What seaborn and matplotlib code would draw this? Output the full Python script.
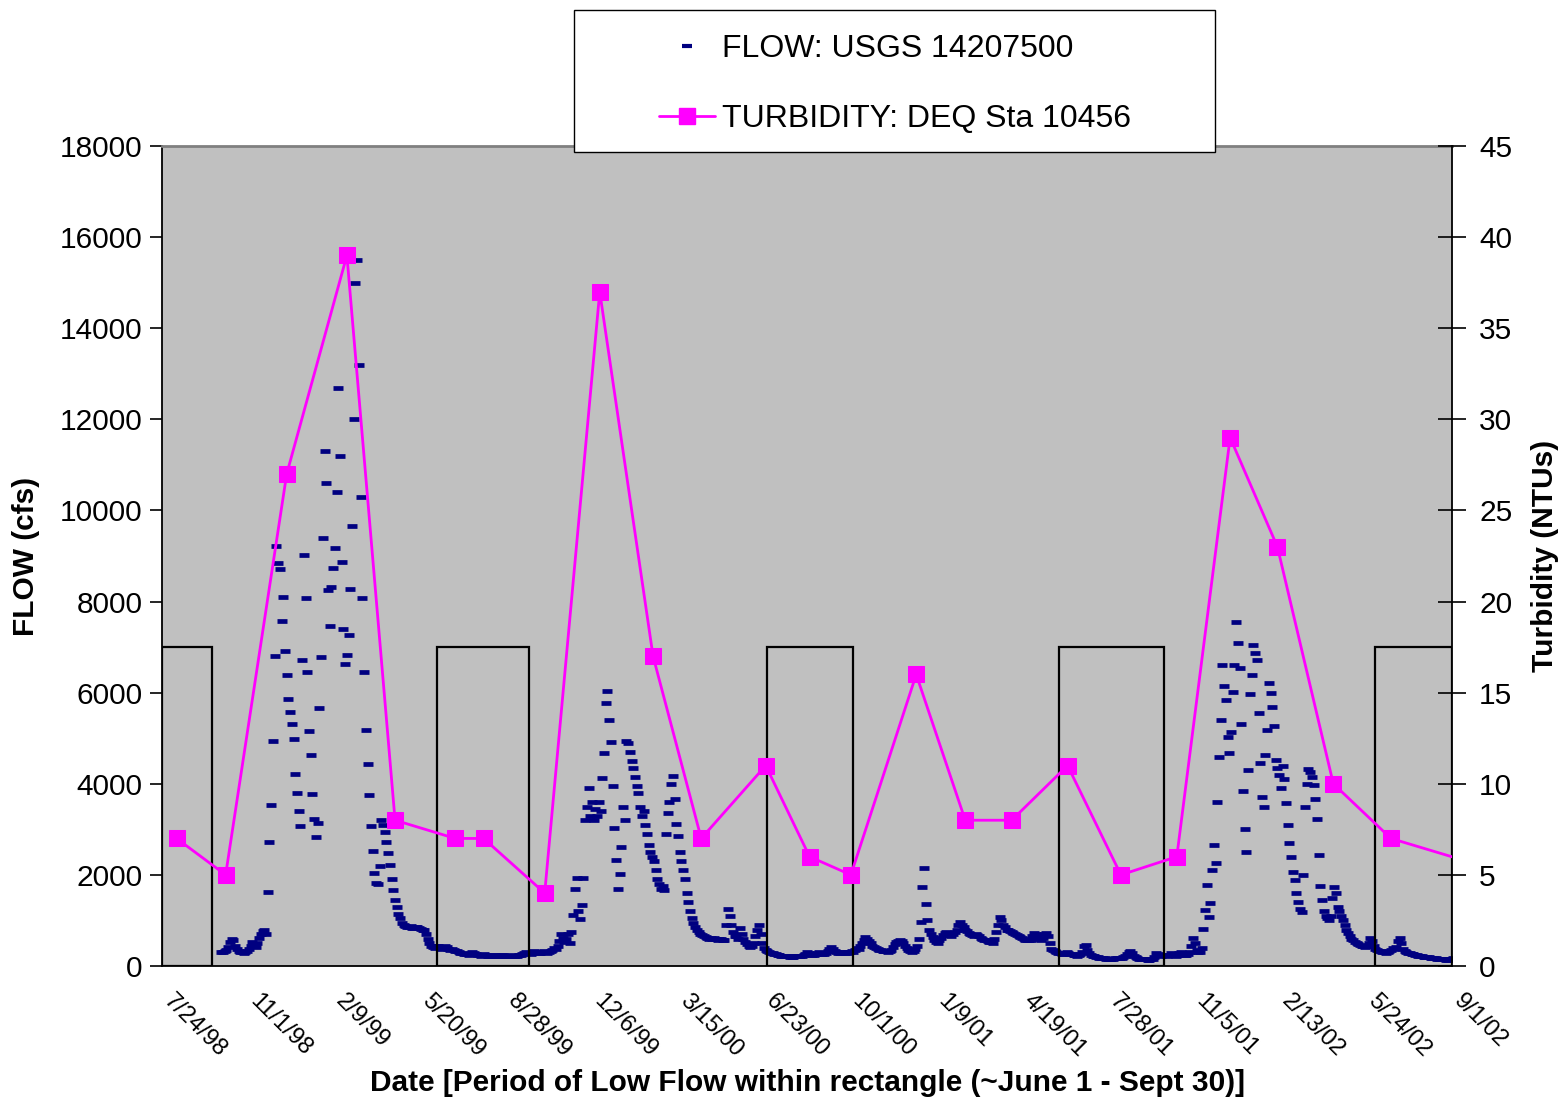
import numpy as np
import pandas as pd
import matplotlib
matplotlib.use("Agg")
import matplotlib.pyplot as plt
import matplotlib.dates as mdates
import matplotlib.transforms as mtransforms
from matplotlib.lines import Line2D
from matplotlib.patches import Rectangle
import seaborn as sns

sns.set_style("white")
plt.rcParams['font.family'] = ['Liberation Sans', 'DejaVu Sans']
plt.rcParams['text.color'] = 'black'
plt.rcParams['axes.labelcolor'] = 'black'
plt.rcParams['xtick.color'] = 'black'
plt.rcParams['ytick.color'] = 'black'

# ---------------------------------------------------------------------------
# Daily flow at USGS 14207500, sampled every second day, one list per water year
# ---------------------------------------------------------------------------
flow_wy1999_start = "1998-10-01"
flow_wy1999 = [
    300, 310, 330, 350, 420, 520, 600, 560, 450, 380, 340, 310, 300, 290, 300, 330, 380, 450, 520, 480,
    420, 500, 620, 700, 760, 780, 700, 1620, 2720, 3530, 4940,
    6800, 9220, 8850, 8710, 7570, 8100, 6910, 6390, 5860, 5580, 5310, 4980, 4210, 3800, 3400, 3070,
    6720, 9020, 8080, 6450, 5160, 4630, 3780, 3230, 2830, 3140,
    5660, 6780, 9390, 11300, 10600, 8250, 7460, 8320, 8740, 9170, 10400, 12690, 11190, 8870, 7400, 6630,
    6830, 7270, 8270, 9660, 12010, 14990, 15500, 13190, 10290, 8080, 6450, 5180, 4430, 3750, 3070, 2520,
    2040, 1820,
    1800, 2200, 3200, 3100, 2940, 2720, 2480, 2220, 1900, 1670, 1450, 1300, 1150, 1050,
    950, 900, 870,
    860, 850, 870, 840, 830, 850, 860, 840, 820, 800, 780, 700,
    600, 500, 450, 420,
    400, 430, 450, 420, 380, 400, 430, 410, 380, 360, 370,
    350, 340, 320, 300, 290, 280, 270, 260, 260, 250, 280, 300, 280, 260, 250, 240,
    230, 240, 260, 250, 230, 220, 230, 250, 240, 230, 220, 230, 240, 250, 230, 220, 210, 220, 240, 230,
    220, 230, 240, 250, 260, 280, 300, 290, 280, 270, 300, 330,
]

flow_wy2000_start = "1999-10-01"
flow_wy2000 = [
    300, 310, 290, 280, 300, 320, 300, 280,
    300, 320, 350, 400, 380, 450, 550, 700, 620, 520, 600, 700, 500, 750,
    1120, 1690, 1930, 1200, 1030, 1340, 1930, 3200, 3500, 3900, 3300, 3600, 3200, 3450, 3300, 3600, 3400,
    4130, 4680, 5770, 6040, 5400, 4920, 3950, 3030, 2320, 1690, 2020, 2610, 3490, 3200,
    4950, 4900, 4700, 4500, 4350, 4150, 3950, 3800, 3500, 3300, 3400, 3100, 2900, 2660, 2500, 2400,
    2300, 2100, 1900, 1800, 1700, 1750, 1670,
    2900, 3360, 3600, 4000, 4170, 3660, 3120, 2850, 2500, 2300, 2100, 1900, 1600, 1400, 1200, 1050,
    950, 850, 800, 750, 700, 680, 650, 640, 620,
    600, 610, 590, 620, 600, 580, 590, 600, 580, 570,
    900, 1250, 1100, 900, 750, 650,
    650, 600, 830, 700, 600, 520, 480, 450, 420, 450, 500, 650, 800, 900, 700, 500, 400, 350, 320, 300,
    290, 280, 270, 260,
    250, 240, 230, 220, 220, 210, 210, 200, 200, 200, 210, 210, 220, 220, 230, 250, 270, 300, 280, 260,
    250, 240, 260, 280, 300, 290, 270, 260, 280, 320, 380, 420, 380, 330, 300, 290, 280, 300, 310, 290,
    280, 300,
]

flow_wy2001_start = "2000-10-01"
flow_wy2001 = [
    300,
    320, 300, 350, 400, 380, 450, 500, 560, 640, 600,
    550, 500, 450, 420, 400, 380, 360, 350, 340, 330,
    320, 310, 330, 360, 420, 480, 520, 550, 570, 540,
    500, 450, 400, 350, 320, 300, 330, 380, 450, 600,
    970, 1730, 2150, 1360, 1000,
    800, 700, 640, 560, 520, 500, 560, 620, 680, 720,
    750, 700, 680, 650, 700, 740, 800, 900, 970, 900,
    850, 800, 760, 720, 700, 680, 650, 700, 680, 650,
    620, 600, 580, 560, 550, 530, 520, 500, 600, 750,
    900, 1080, 1000, 900, 850, 800, 780, 760, 740, 720,
    700, 680, 660, 640, 620, 600, 580, 560, 560, 580,
    650, 720, 700, 650, 600, 580, 620, 700, 720, 650,
    500, 380, 350, 320, 300, 290, 280, 270, 260, 280,
    300, 280, 270, 260, 250, 240, 230, 240, 260, 300,
    430, 460, 350, 280, 250, 230, 220, 200, 190, 180,
    180, 170, 170, 160, 160, 150, 150, 160, 170, 180,
    170, 170, 180, 200, 220, 260, 300, 330, 280, 220,
    190, 170, 160, 150, 150, 150, 150, 140, 140, 150,
    160, 200, 280, 260, 240, 230, 250,
]

flow_wy2002_start = "2001-10-01"
flow_wy2002 = [
    250, 240, 230, 250, 280, 260, 240, 230, 250, 280, 300,
    280, 250, 240, 260, 300, 450, 610, 500, 350, 300,
    300, 400, 810, 1230, 1780, 1080, 1380, 2110, 2660, 2260,
    3600, 4590, 5400, 6610, 6150, 5840, 5030, 4670, 5140, 6010, 6610, 7550, 7090, 6540, 5310, 3840,
    3010, 2500,
    4300, 5970, 6390, 7050, 6870, 6720, 5550, 4460, 3710, 3490, 4630, 5180, 6210, 5990, 5690, 5270,
    4520, 4350, 4200, 3900, 4400, 4100, 3580, 3100, 2700, 2400, 2060, 1890, 1600, 1400, 1250, 1190,
    2000, 3490, 4000, 4320, 4250, 4150, 3970, 3660, 3230, 2440, 1760, 1450, 1200, 1100, 1050, 1000,
    1100,
    1500, 1730, 1600, 1300, 1200, 1100, 1000, 900, 800, 720, 650, 600, 560, 520, 500, 480, 460, 440,
    430, 420,
    450, 500, 610, 550, 450, 380, 350, 330, 320, 310, 300, 290, 300, 320, 350, 400, 380, 420, 550, 610,
    500, 380, 320, 300,
    290, 280, 270, 260, 250, 240, 230, 220, 210, 200, 200, 190, 190, 180, 180, 170, 170, 160, 160, 150,
    150, 150, 140, 140, 150, 160, 180,
]

# Turbidity grab samples at DEQ station 10456 (NTU)
turb_dates = [
    "1998-08-10", "1998-10-06", "1998-12-16", "1999-02-24", "1999-04-21", "1999-06-30",
    "1999-08-02", "1999-10-12", "1999-12-15", "2000-02-15", "2000-04-11", "2000-06-25",
    "2000-08-15", "2000-10-02", "2000-12-17", "2001-02-12", "2001-04-07", "2001-06-11",
    "2001-08-12", "2001-10-16", "2001-12-17", "2002-02-10", "2002-04-16", "2002-06-22",
    "2002-11-10",
]
turb_ntu = [7, 5, 27, 39, 8, 7, 7, 4, 37, 17, 7, 11, 6, 5, 16, 8, 8, 11, 5, 6, 29, 23, 10, 7, 5]

# Summer low-flow windows (drawn as boxes up to 7000 cfs)
lowflow_start = ["1998-07-24", "1999-06-09", "2000-06-26", "2001-06-01", "2002-06-04"]
lowflow_end = ["1998-09-20", "1999-09-24", "2000-10-05", "2001-10-01", "2002-09-01"]
lowflow_top = 7000

# Axis settings
x_start, x_end = "1998-07-24", "2002-09-01"
flow_ticks = list(range(0, 18001, 2000))
turb_ticks = list(range(0, 46, 5))

# ---------------------------------------------------------------------------
def wy_frame(start, values):
    dates = pd.date_range(start=start, periods=len(values), freq="2D")
    return pd.DataFrame({"date": dates, "cfs": values})

flow_df = pd.concat([
    wy_frame(flow_wy1999_start, flow_wy1999),
    wy_frame(flow_wy2000_start, flow_wy2000),
    wy_frame(flow_wy2001_start, flow_wy2001),
    wy_frame(flow_wy2002_start, flow_wy2002),
], ignore_index=True)
turb_df = pd.DataFrame({"date": pd.to_datetime(turb_dates), "ntu": turb_ntu})

NAVY = "#000080"
MAGENTA = "#FF00FF"

fig = plt.figure(figsize=(15.64, 11.02), dpi=100)
fig.patch.set_facecolor("white")
ax1 = fig.add_axes([0.10358, 0.12341, 0.82481, 0.74410])
ax1.set_facecolor("#C0C0C0")
ax2 = ax1.twinx()
ax2.patch.set_visible(False)

# Flow as short dashes
sns.scatterplot(data=flow_df, x="date", y="cfs", marker="_", s=56, linewidth=3.4,
                color=NAVY, edgecolor=NAVY, ax=ax1, legend=False, zorder=2)

# Low-flow boxes
for s, e in zip(lowflow_start, lowflow_end):
    x0 = mdates.date2num(pd.Timestamp(s))
    x1 = mdates.date2num(pd.Timestamp(e))
    ax1.add_patch(Rectangle((x0, 0), x1 - x0, lowflow_top, fill=False,
                            edgecolor="black", linewidth=1.6, zorder=3))

# Turbidity line with square markers on the secondary axis
sns.lineplot(data=turb_df, x="date", y="ntu", color=MAGENTA, linewidth=2.0,
             marker="s", markersize=11, markeredgecolor=MAGENTA,
             ax=ax2, legend=False, zorder=4)

xmin, xmax = pd.Timestamp(x_start), pd.Timestamp(x_end)
ax1.set_xlim(xmin, xmax)
ax1.set_ylim(0, 18000)
ax2.set_ylim(0, 45)
ax1.set_yticks(flow_ticks)
ax1.set_yticklabels([str(v) for v in flow_ticks])
ax2.set_yticks(turb_ticks)
ax2.set_yticklabels([str(v) for v in turb_ticks])

major = pd.date_range(xmin, xmax, freq="100D")
minor = pd.date_range(xmin, xmax, freq="30D")
ax1.set_xticks(major)
ax1.set_xticks(minor, minor=True)
ax1.set_xticklabels([f"{d.month}/{d.day}/{d:%y}" for d in major],
                    rotation=-45, ha="left", va="top", rotation_mode="anchor")

ax1.tick_params(axis="y", direction="out", length=9, width=1.2, labelsize=21.5, pad=5.2, colors="black")
ax2.tick_params(axis="y", direction="inout", length=20, width=1.2, labelsize=21.5, pad=9.5, colors="black")
ax1.tick_params(axis="x", which="major", direction="out", length=7, width=1.2, labelsize=17, pad=10.5,
                colors="black")
ax1.tick_params(axis="x", which="minor", direction="out", length=4, width=1.0, colors="black")
ax2.tick_params(axis="x", which="both", bottom=False, top=False, labelbottom=False)

# nudge the slanted date labels to the right of their ticks
shift = mtransforms.ScaledTranslation(13 / 100.0, 0, fig.dpi_scale_trans)
for lbl in ax1.get_xticklabels():
    lbl.set_transform(lbl.get_transform() + shift)

for sp in ["left", "bottom"]:
    ax1.spines[sp].set_color("black")
    ax1.spines[sp].set_linewidth(1.3)
ax1.spines["top"].set_color("#808080")
ax1.spines["top"].set_linewidth(2.0)
ax1.spines["right"].set_visible(False)
for sp in ["left", "bottom", "top"]:
    ax2.spines[sp].set_visible(False)
ax2.spines["right"].set_color("black")
ax2.spines["right"].set_linewidth(1.3)

ax1.set_xlabel("Date [Period of Low Flow within rectangle (~June 1 - Sept 30)]",
               fontsize=21.5, fontweight="bold", va="center", color="black")
ax1.xaxis.set_label_coords(0.5, -0.1427)
ax1.set_ylabel("FLOW (cfs)", fontsize=21.5, fontweight="bold", va="center", color="black")
ax1.yaxis.set_label_coords(-0.1054, 0.5)
ax2.set_ylabel("Turbidity (NTUs)", fontsize=21.5, fontweight="bold", va="center", rotation=90,
               color="black")
ax2.yaxis.set_label_coords(1.0721, 0.5)

# Legend box above the plot
W, H = 1564.0, 1102.0
box = Rectangle((574 / W, 1 - 152 / H), 641 / W, 142 / H, transform=fig.transFigure,
                facecolor="white", edgecolor="black", linewidth=1.0, zorder=5)
fig.add_artist(box)
handles = [
    Line2D([], [], color=NAVY, marker="_", linestyle="None", markersize=7, markeredgewidth=3.0),
    Line2D([], [], color=MAGENTA, marker="s", markersize=11, linewidth=2.0),
]
labels = ["FLOW: USGS 14207500", "TURBIDITY: DEQ Sta 10456"]
leg = fig.legend(handles, labels, loc="center left", bbox_to_anchor=(643 / W, 1 - 84 / H),
                 frameon=False, fontsize=23, handlelength=1.75, handletextpad=0.22,
                 labelspacing=1.25, borderpad=0, labelcolor="black")
leg.set_zorder(6)

fig.savefig("out.png", dpi=100)
